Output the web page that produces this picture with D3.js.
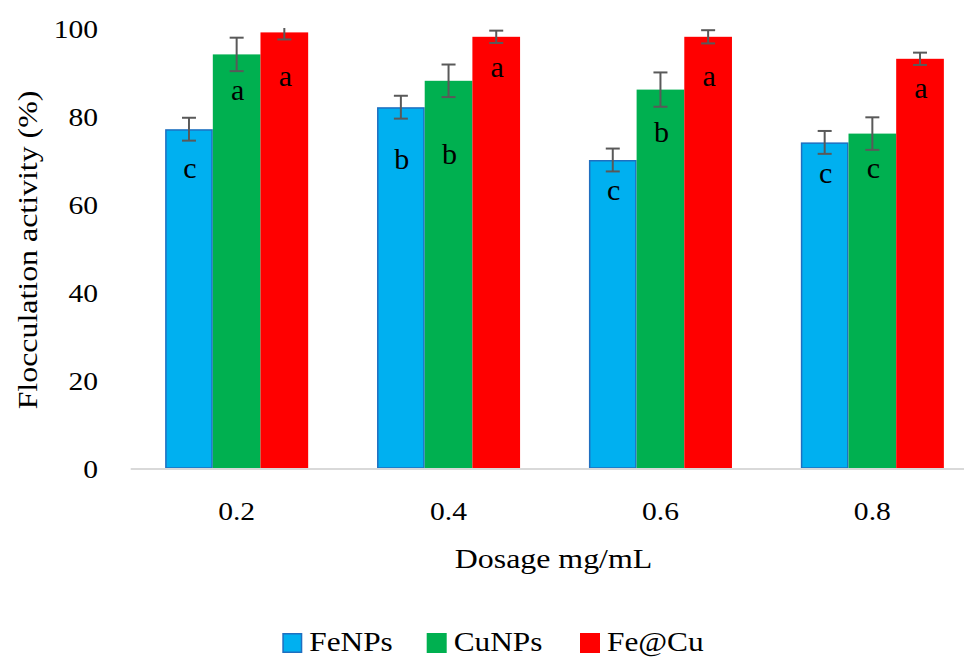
<!DOCTYPE html>
<html><head><meta charset="utf-8">
<script src="https://cdn.jsdelivr.net/npm/d3@7"></script>
<style>
html,body{margin:0;padding:0;background:#fff;}
svg{display:block;font-family:"Liberation Serif","Times New Roman",serif;}
</style></head>
<body>
<svg id="chart" width="964" height="657"></svg>
<script>
// ---- data ----
const categories = ["0.2", "0.4", "0.6", "0.8"];
const seriesNames = ["FeNPs", "CuNPs", "Fe@Cu"];
const feNPs = [77, 82, 70, 74];
const cuNPs = [94, 88, 86, 76];
const feCu = [99, 98, 98, 93];
const feNPsErr = [2.6, 2.6, 2.6, 2.6];
const cuNPsErr = [3.8, 3.7, 3.9, 3.7];
const feCuErr = [1.6, 1.4, 1.5, 1.4];
const feNPsLetters = ["c", "b", "c", "c"];
const cuNPsLetters = ["a", "b", "b", "c"];
const feCuLetters = ["a", "a", "a", "a"];
// height (in % units) of the letter baselines
const feNPsLetterAt = [65.8, 67.9, 60.8, 64.8];
const cuNPsLetterAt = [83.6, 69.1, 74.2, 66.0];
const feCuLetterAt = [86.8, 88.8, 86.8, 84.2];
const yTicks = [0, 20, 40, 60, 80, 100];
const xTitle = "Dosage mg/mL";
const yTitle = "Flocculation activity (%)";

(function () {
const colors = {"FeNPs": "#00b0f0", "CuNPs": "#00b050", "Fe@Cu": "#ff0000"};
const series = [
  {name: "FeNPs", values: feNPs, err: feNPsErr, letters: feNPsLetters, at: feNPsLetterAt},
  {name: "CuNPs", values: cuNPs, err: cuNPsErr, letters: cuNPsLetters, at: cuNPsLetterAt},
  {name: "Fe@Cu", values: feCu, err: feCuErr, letters: feCuLetters, at: feCuLetterAt}
];
const SX = 1.16;

const svg = d3.select("#chart");
const pL = 130.7, pR = 978.3, pT = 28, pB = 468;

const x0 = d3.scaleBand().domain(categories).range([pL, pR])
  .paddingInner(0.325).paddingOuter(0.1625);
const x1 = d3.scaleBand().domain(seriesNames).range([0, x0.bandwidth()]);
const y = d3.scaleLinear().domain([0, 100]).range([pB, pT]);

svg.append("defs").append("clipPath").attr("id", "plotclip")
  .append("rect").attr("x", 0).attr("y", pT).attr("width", 964).attr("height", pB - pT);

const isFe = n => n === "FeNPs";

// bars
const gBars = svg.append("g");
series.forEach(s => {
  gBars.selectAll(null).data(categories).enter().append("rect")
    .attr("x", c => x0(c) + x1(s.name) + (isFe(s.name) ? 0.75 : 0))
    .attr("y", (c, i) => y(s.values[i]) + (isFe(s.name) ? 0.75 : 0))
    .attr("width", x1.bandwidth() - (isFe(s.name) ? 1.5 : 0))
    .attr("height", (c, i) => y(0) - y(s.values[i]) - (isFe(s.name) ? 0.75 : 0))
    .attr("fill", colors[s.name])
    .attr("stroke", isFe(s.name) ? "#1f6fc0" : "none")
    .attr("stroke-width", 1.5);
});

// axis line
svg.append("line").attr("x1", pL).attr("x2", pR).attr("y1", pB + 1).attr("y2", pB + 1)
  .attr("stroke", "#d9d9d9").attr("stroke-width", 2);

// error bars
const gErr = svg.append("g").attr("clip-path", "url(#plotclip)")
  .attr("stroke", "#595959").attr("stroke-width", 2).attr("fill", "none");
series.forEach(s => {
  categories.forEach((c, i) => {
    const cx = x0(c) + x1(s.name) + x1.bandwidth() / 2;
    const yT = y(s.values[i] + s.err[i]), yB = y(s.values[i] - s.err[i]);
    gErr.append("line").attr("x1", cx).attr("x2", cx).attr("y1", yT).attr("y2", yB);
    gErr.append("line").attr("x1", cx - 7).attr("x2", cx + 7).attr("y1", yT).attr("y2", yT);
    gErr.append("line").attr("x1", cx - 7).attr("x2", cx + 7).attr("y1", yB).attr("y2", yB);
  });
});

// letters
const gLet = svg.append("g");
series.forEach(s => {
  categories.forEach((c, i) => {
    gLet.append("text")
      .attr("x", x0(c) + x1(s.name) + x1.bandwidth() / 2 + 1)
      .attr("y", y(s.at[i]))
      .attr("text-anchor", "middle")
      .attr("font-size", 30).attr("fill", "#000")
      .text(s.letters[i]);
  });
});

// y axis
const yAxis = svg.append("g").attr("transform", `translate(${pL},0)`)
  .call(d3.axisLeft(y).tickValues(yTicks).tickSize(0).tickFormat(d3.format("d")));
yAxis.select(".domain").remove();
yAxis.selectAll("text")
  .attr("x", null).attr("dy", "0.36em")
  .attr("transform", `translate(-32.7,0) scale(${SX},1)`)
  .attr("font-size", 25.5).attr("font-family", "Liberation Serif, serif").attr("fill", "#000");

// x axis
const xAxis = svg.append("g").attr("transform", `translate(0,${pB})`)
  .call(d3.axisBottom(x0).tickSize(0));
xAxis.select(".domain").remove();
xAxis.selectAll("text")
  .attr("y", null).attr("dy", null)
  .attr("transform", `translate(0,52) scale(${SX},1)`)
  .attr("font-size", 25.5).attr("font-family", "Liberation Serif, serif").attr("fill", "#000");

// titles
svg.append("text")
  .attr("transform", `translate(${(pL + pR) / 2 - 1},568) scale(${SX},1)`)
  .attr("text-anchor", "middle").attr("font-size", 27.5).attr("fill", "#000")
  .text(xTitle);
svg.append("text")
  .attr("transform", `translate(37,250) rotate(-90) scale(${SX},1)`)
  .attr("text-anchor", "middle").attr("font-size", 27.5).attr("fill", "#000")
  .text(yTitle);

// legend
const legX = [282.3, 426.7, 580];
const gLeg = svg.append("g");
series.forEach((s, i) => {
  const f = isFe(s.name);
  gLeg.append("rect")
    .attr("x", legX[i] + (f ? 0.75 : 0)).attr("y", 633 + (f ? 0.75 : 0))
    .attr("width", f ? 18.5 : 20).attr("height", f ? 18.5 : 20)
    .attr("fill", colors[s.name])
    .attr("stroke", f ? "#1f6fc0" : "none").attr("stroke-width", 1.5);
  gLeg.append("text")
    .attr("transform", `translate(${legX[i] + 27},650.5) scale(${SX},1)`)
    .attr("font-size", 27).attr("fill", "#000")
    .text(s.name);
});
})();
</script>
</body></html>
